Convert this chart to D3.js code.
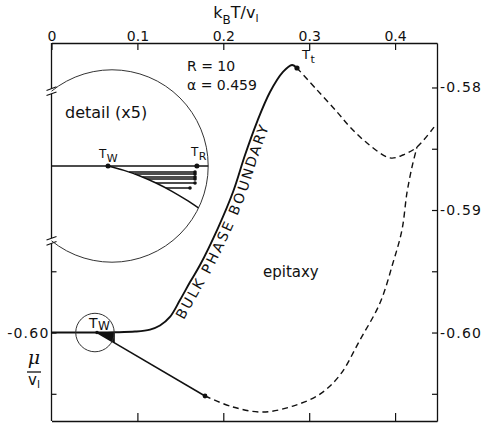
<!DOCTYPE html>
<html>
<head>
<meta charset="utf-8">
<script src="https://cdn.jsdelivr.net/npm/d3@7"></script>
<style>
  html, body { margin: 0; padding: 0; background: #fff; }
  svg { display: block; font-family: "DejaVu Sans", sans-serif; }
</style>
</head>
<body>
<svg id="chart" width="486" height="423"></svg>
<script>
// ---- axes: reduced temperature k_B T / v_l and chemical potential mu / v_l ----
const tDomain = [0, 0.4488];
const muDomain = [-0.60722, -0.57637];
const tempTicks = [0, 0.1, 0.2, 0.3, 0.4];
const tempTicksBottom = [0.1, 0.2, 0.3, 0.4];
const muTicksRight = [-0.58, -0.585, -0.59, -0.595, -0.60, -0.605];
const muTicksLeft = [-0.595, -0.60, -0.605];

// ---- special points ----
const Tw = 0.053;      // wetting temperature
const TR = 0.0737;     // roughening temperature
const Tt = 0.2858, muTt = -0.57841;   // triple point
const mu0 = -0.600;    // bulk coexistence below Tw

// bulk phase boundary (solid), T = 0 up to Tt
const bulkT  = [0.000, 0.053, 0.0739, 0.0972, 0.1147, 0.1263, 0.1379, 0.1496, 0.1613, 0.1729, 0.1938, 0.2113, 0.2253, 0.2392, 0.2544, 0.2695, 0.2800, 0.2858];
const bulkMu = [-0.60000, -0.60000, -0.59998, -0.59992, -0.59976, -0.59943, -0.59873, -0.59735, -0.59588, -0.59449, -0.59147, -0.58853, -0.58551, -0.58282, -0.58037, -0.57873, -0.57816, -0.57841];

// metastable continuation beyond Tt (dashed)
const upperT  = [0.2858, 0.3091, 0.3324, 0.3475, 0.3673, 0.3941, 0.4092, 0.4255, 0.4464];
const upperMu = [-0.57841, -0.58020, -0.58200, -0.58322, -0.58453, -0.58575, -0.58551, -0.58486, -0.58314];

// wetting line from Tw (solid) and its dashed continuation
const wetT  = [0.053, 0.1787];
const wetMu = [-0.60000, -0.60518];
const lowerT  = [0.1787, 0.2113, 0.2462, 0.2811, 0.3126, 0.3358, 0.3591, 0.3824, 0.3975, 0.4080, 0.4138, 0.4197, 0.4255];
const lowerMu = [-0.60518, -0.60608, -0.60649, -0.60600, -0.60502, -0.60347, -0.60061, -0.59759, -0.59433, -0.59163, -0.58861, -0.58649, -0.58486];

// magnified region around Tw (x5)
const lensT = 0.0506, lensMu = -0.600, lensRadiusT = 0.0224;
const detailCenterT = 0.05393;
const detailCurveT  = [0.05300, 0.05673, 0.06045, 0.06418, 0.06790, 0.07163, 0.07535];
const detailCurveMu = [-0.600000, -0.600071, -0.600163, -0.600278, -0.600413, -0.600571, -0.600749];
// layering transitions ending in critical points
const layerMu     = [-0.600098, -0.600131, -0.600180, -0.600212, -0.600278, -0.600359];
const layerStartT = [0.05791, 0.05924, 0.06103, 0.06213, 0.06418, 0.06648];
const layerEndT   = [0.07326, 0.07326, 0.07326, 0.07326, 0.07326, 0.07209];

const boundaryWords = ["BULK", "PHASE", "BOUNDARY"];

const svg = d3.select("#chart");
const ink = "#111";

const x = d3.scaleLinear().domain(tDomain).range([51.5, 437]);
const y = d3.scaleLinear().domain(muDomain).range([421, 43]);
const xL = x.range()[0], xR = x.range()[1], yT = y.range()[1], yB = y.range()[0];

// detail scales: 5x the main scales, anchored at Tw
const mag = 5;
const xd = d3.scaleLinear().domain([Tw, Tw + 0.01]).range([108, 108 + mag * (x(0.01) - x(0))]);
const yd = d3.scaleLinear().domain([mu0, mu0 - 0.001]).range([166, 166 + mag * (y(-0.601) - y(-0.600))]);

const zip = (a, b) => a.map((v, i) => [v, b[i]]);
const line = d3.line().x(d => x(d[0])).y(d => y(d[1])).curve(d3.curveCatmullRom.alpha(0.5));
const lineD = d3.line().x(d => xd(d[0])).y(d => yd(d[1])).curve(d3.curveCatmullRom.alpha(0.5));

function styleAxis(g) {
  g.attr("font-family", null).attr("font-size", null);
  g.selectAll(".domain").attr("stroke", ink).attr("stroke-width", 1.3);
  g.selectAll(".tick line").attr("stroke", ink).attr("stroke-width", 1.2);
  g.selectAll(".tick text").attr("fill", ink).attr("font-size", 14);
}

// top axis
svg.append("g").attr("transform", `translate(0,${yT})`)
  .call(d3.axisTop(x).tickValues(tempTicks).tickSizeInner(-7).tickSizeOuter(0).tickPadding(2)
    .tickFormat(d => d === 0 ? "0" : d.toFixed(1)))
  .call(styleAxis);

// bottom axis
svg.append("g").attr("transform", `translate(0,${yB})`)
  .call(d3.axisBottom(x).tickValues(tempTicksBottom).tickSizeInner(-8).tickSizeOuter(0).tickFormat(""))
  .call(styleAxis);

const muFmt = d => (Math.round(Math.abs(d) * 1000) % 10 === 0) ? "-" + Math.abs(d).toFixed(2) : "";

// right axis
svg.append("g").attr("transform", `translate(${xR},0)`)
  .call(d3.axisRight(y).tickValues(muTicksRight).tickSizeInner(-5).tickSizeOuter(0).tickPadding(3).tickFormat(muFmt))
  .call(styleAxis)
  .selectAll(".tick text").attr("letter-spacing", 1.2);

// left axis ticks (axis line is broken around the inset)
const leftG = svg.append("g").attr("transform", `translate(${xL},0)`)
  .call(d3.axisLeft(y).tickValues(muTicksLeft).tickSizeInner(-5).tickSizeOuter(0).tickPadding(2)
    .tickFormat(d => Math.abs(d + 0.6) < 1e-9 ? "-0.60" : ""))
  .call(styleAxis);
leftG.select(".domain").remove();
leftG.selectAll(".tick text").attr("letter-spacing", 1.2);

// inset geometry
const dcx = xd(detailCenterT), dcy = yd(mu0);
const lensR = x(lensT + lensRadiusT) - x(lensT);
const dr = lensR * mag;
const half = Math.sqrt(dr * dr - (dcx - xL) * (dcx - xL));
const breaks = [dcy - half, dcy + half];
const gap = 2.6;

const segs = [[yT, breaks[0] - gap], [breaks[0] + gap, breaks[1] - gap], [breaks[1] + gap, yB]];
svg.append("g").selectAll("line").data(segs).join("line")
  .attr("x1", xL).attr("x2", xL).attr("y1", d => d[0]).attr("y2", d => d[1])
  .attr("stroke", ink).attr("stroke-width", 1.3);
// break marks
const marks = [];
breaks.forEach(b => { marks.push(b - gap); marks.push(b + gap); });
svg.append("g").selectAll("line").data(marks).join("line")
  .attr("x1", xL - 5).attr("x2", xL + 5).attr("y1", d => d + 1.8).attr("y2", d => d - 1.8)
  .attr("stroke", ink).attr("stroke-width", 1.1);

// ---- main curves ----
svg.append("path").attr("id", "bulkPath").attr("d", line(zip(bulkT, bulkMu)))
  .attr("fill", "none").attr("stroke", ink).attr("stroke-width", 1.9);

svg.append("path").attr("d", line(zip(upperT, upperMu)))
  .attr("fill", "none").attr("stroke", ink).attr("stroke-width", 1.4).attr("stroke-dasharray", "6,4");

svg.append("path").attr("d", d3.line().x(d => x(d[0])).y(d => y(d[1]))(zip(wetT, wetMu)))
  .attr("fill", "none").attr("stroke", ink).attr("stroke-width", 1.5);

svg.append("path").attr("d", line(zip(lowerT, lowerMu)))
  .attr("fill", "none").attr("stroke", ink).attr("stroke-width", 1.4).attr("stroke-dasharray", "6,4");

// layered region between Tw and TR (filled wedge)
const wetAt = t => wetMu[0] + (wetMu[1] - wetMu[0]) * (t - wetT[0]) / (wetT[1] - wetT[0]);
svg.append("path")
  .attr("d", d3.area().x(d => x(d)).y0(y(mu0)).y1(d => y(wetAt(d)))([Tw, TR]))
  .attr("fill", ink);

// lens circle
svg.append("circle").attr("cx", x(lensT)).attr("cy", y(lensMu)).attr("r", lensR)
  .attr("fill", "none").attr("stroke", "#333").attr("stroke-width", 1);

// dots
svg.append("circle").attr("cx", x(Tw)).attr("cy", y(mu0)).attr("r", 1.8).attr("fill", ink);
svg.append("circle").attr("cx", x(Tt)).attr("cy", y(muTt)).attr("r", 2.6).attr("fill", ink);
svg.append("circle").attr("cx", x(wetT[1])).attr("cy", y(wetMu[1])).attr("r", 2.4).attr("fill", ink);

// ---- inset (x5) ----
const defs = svg.append("defs");
defs.append("clipPath").attr("id", "lensClip").append("circle")
  .attr("cx", dcx).attr("cy", dcy).attr("r", dr);
defs.append("clipPath").attr("id", "axisClip").append("rect")
  .attr("x", xL).attr("y", 0).attr("width", 486).attr("height", 423);

const insetOuter = svg.append("g").attr("clip-path", "url(#axisClip)");
insetOuter.append("circle").attr("cx", dcx).attr("cy", dcy).attr("r", dr)
  .attr("fill", "none").attr("stroke", "#333").attr("stroke-width", 1);

const inset = insetOuter.append("g").attr("clip-path", "url(#lensClip)");

inset.append("line")
  .attr("x1", xd(Tw - 0.02)).attr("x2", xd(Tw + 0.03)).attr("y1", yd(mu0)).attr("y2", yd(mu0))
  .attr("stroke", ink).attr("stroke-width", 1.5);
inset.append("path").attr("d", lineD(zip(detailCurveT, detailCurveMu)))
  .attr("fill", "none").attr("stroke", ink).attr("stroke-width", 1.5);
inset.append("g").selectAll("line").data(layerMu).join("line")
  .attr("x1", (d, i) => xd(layerStartT[i])).attr("x2", (d, i) => xd(layerEndT[i]))
  .attr("y1", d => yd(d)).attr("y2", d => yd(d))
  .attr("stroke", ink).attr("stroke-width", 1.4);
inset.append("g").selectAll("circle").data(layerMu).join("circle")
  .attr("cx", (d, i) => xd(layerEndT[i])).attr("cy", d => yd(d)).attr("r", 1.8).attr("fill", ink);
inset.append("circle").attr("cx", xd(Tw)).attr("cy", yd(mu0)).attr("r", 2.5).attr("fill", ink);
inset.append("circle").attr("cx", xd(TR)).attr("cy", yd(mu0)).attr("r", 2.5).attr("fill", ink);

// ---- labels ----
function subLabel(px, py, main, sub, size, subSize, shift) {
  const t = svg.append("text").attr("x", px).attr("y", py).attr("fill", ink).attr("font-size", size);
  t.append("tspan").text(main);
  t.append("tspan").attr("dy", shift).attr("dx", 0.5).attr("font-size", subSize).text(sub);
  return t;
}

// axis title k_B T / v_l
const title = svg.append("text").attr("x", x(0.2) - 10).attr("y", 18).attr("fill", ink).attr("font-size", 16);
title.append("tspan").text("k");
title.append("tspan").attr("dy", 6).attr("font-size", 12).text("B");
title.append("tspan").attr("dy", -6).text("T/v");
title.append("tspan").attr("dy", 4).attr("font-size", 11).text("l");

// mu / v_l
const fx = 34;
svg.append("text").attr("x", fx).attr("y", 364).attr("text-anchor", "middle").attr("font-size", 19)
  .attr("font-style", "italic").attr("font-family", "DejaVu Serif, serif").attr("fill", ink).text("μ");
svg.append("line").attr("x1", fx - 7).attr("x2", fx + 7).attr("y1", 372).attr("y2", 372)
  .attr("stroke", ink).attr("stroke-width", 1.3);
const vl = svg.append("text").attr("x", fx - 6).attr("y", 385).attr("font-size", 15).attr("fill", ink);
vl.append("tspan").text("v");
vl.append("tspan").attr("dy", 3).attr("font-size", 11).text("l");

subLabel(x(Tw) - 8, 328, "T", "W", 14, 12, 2);
subLabel(x(Tt) + 5, 59, "T", "t", 13, 11, 4);
subLabel(xd(Tw) - 9, 158, "T", "W", 12, 11, 4);
subLabel(xd(TR) - 6, 156, "T", "R", 12, 11, 4);

svg.append("text").attr("x", 187).attr("y", 71).attr("font-size", 14).attr("fill", ink).text("R = 10");
svg.append("text").attr("x", 187).attr("y", 90).attr("font-size", 14).attr("fill", ink).text("α = 0.459");
svg.append("text").attr("x", 65).attr("y", 118).attr("font-size", 16).attr("fill", ink).text("detail (x5)");
svg.append("text").attr("x", 263).attr("y", 277).attr("font-size", 15).attr("fill", ink).text("epitaxy");

// label running along the bulk phase boundary, one word at a time
const bp = document.getElementById("bulkPath");
let off = 0;
const total = bp.getTotalLength();
while (off < total && bp.getPointAtLength(off).x < 172) off += 0.5;
const labelStyle = sel => sel.attr("font-size", 14).attr("fill", ink).attr("letter-spacing", 2.2);
const probe = svg.append("text").call(labelStyle).attr("visibility", "hidden");
const measure = s => { probe.text(s); return probe.node().getComputedTextLength(); };
const spaceW = measure("A A") - measure("AA");
let cursor = off;
boundaryWords.forEach(w => {
  svg.append("text").call(labelStyle).attr("dy", 13)
    .append("textPath").attr("href", "#bulkPath").attr("startOffset", cursor).text(w);
  cursor += measure(w) + spaceW;
});
probe.remove();
</script>
</body>
</html>
